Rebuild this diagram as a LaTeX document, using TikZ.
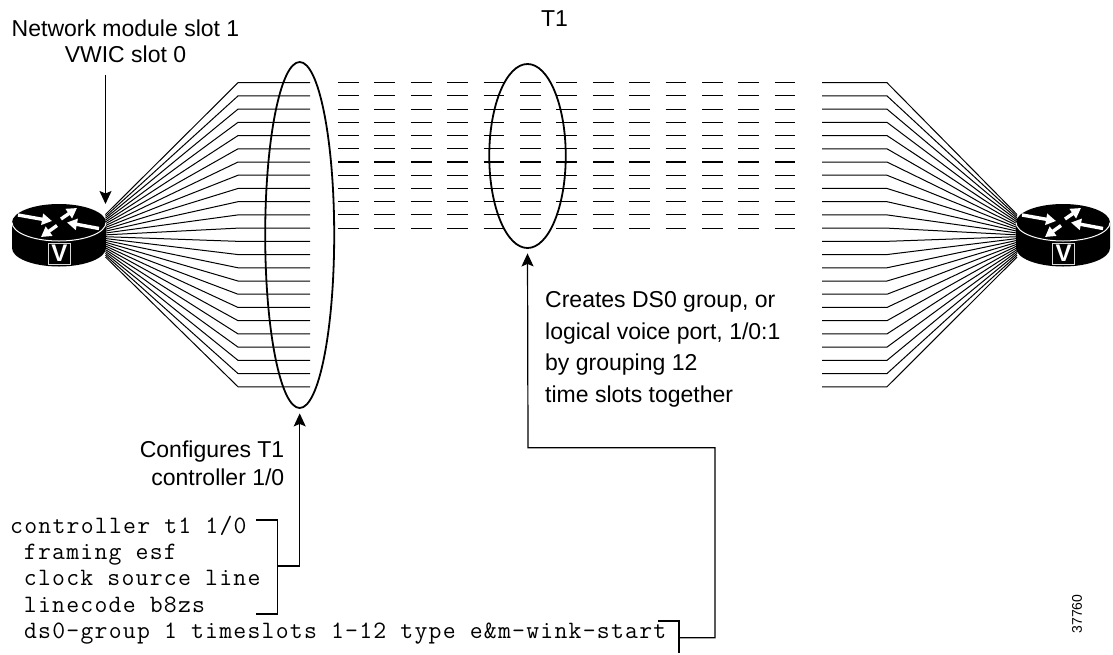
\documentclass[tikz,border=0pt]{standalone}
\usepackage{fontspec}
\setmainfont{Liberation Sans}
\setmonofont{Latin Modern Mono}[LetterSpace=5]
\usetikzlibrary{arrows.meta,shapes.geometric}
\tikzset{
  lbl/.style={inner sep=0pt,font=\fontsize{23}{28}\selectfont},
  code/.style={inner sep=0pt,anchor=base west,align=left,font=\ttfamily\fontsize{25}{26.3}\selectfont},
  wire/.style={line width=1pt,line join=miter},
  slotdash/.style={line width=1.1pt,dash pattern=on 20.8pt off 15.6pt},
  group/.style={draw,ellipse,line width=1.8pt,inner sep=0pt},
  link/.style={line width=1.2pt},
  pointer/.style={link,-{Stealth[length=13pt,width=12pt,inset=2.5pt]}},
  whitearrow/.style={white,line width=3.4pt,-{Stealth[length=10pt,width=11pt,inset=0pt]}}
}
\begin{document}
\begin{tikzpicture}[x=1pt,y=-1pt]
      \useasboundingbox (0,0) rectangle (1113,654) ;
      % time slots
      \foreach \i in {0,...,23} {
        \pgfmathsetmacro{\ypos}{82.7+13.22*\i}
        \pgfmathsetmacro{\yhub}{214.5+1.85*\i}
        \coordinate (LH\i) at (105.5,\yhub) ;
        \coordinate (LB\i) at (238,\ypos) ;
        \coordinate (LE\i) at (310,\ypos) ;
        \coordinate (RH\i) at (1017,\yhub) ;
        \coordinate (RB\i) at (887,\ypos) ;
        \coordinate (RE\i) at (822,\ypos) ;
        \draw[wire] (LH\i)--(LB\i)--(LE\i) ;
        \draw[wire] (RH\i)--(RB\i)--(RE\i) ;
      }
      \foreach \i in {0,...,11} {
        \pgfmathsetmacro{\ypos}{82.7+13.22*\i}
        \coordinate (DL\i) at (338,\ypos) ;
        \coordinate (DR\i) at (795,\ypos) ;
        \draw[slotdash] (DL\i)--(DR\i) ;
      }
      % routers
      \foreach \cx/\nm in {0/left,1004/right} {
        \begin{scope}[shift={(\cx,0)}]
          \fill (12,222.5)--(12,248) arc[start angle=180,end angle=0,x radius=47,y radius=18.5]
            --(106,222.5) arc[start angle=0,end angle=-180,x radius=47,y radius=18.5] ;
          \draw[white,line width=1pt] (12,222.5) arc[start angle=180,end angle=0,x radius=47,y radius=18.5] ;
          \draw[whitearrow] (18,215)--(52,221) ;
          \draw[whitearrow] (61,219)--(77,208) ;
          \draw[whitearrow] (99,228.5)--(67,222.5) ;
          \draw[whitearrow] (57,225.5)--(41,237) ;
          \node[draw=white!85!black,fill=black,text=white,line width=1pt,minimum width=22pt,minimum height=21pt,%
          inner sep=0pt,font=\bfseries\fontsize{24}{24}\selectfont] (V\nm) at (59.5,253.5) {V} ;
        \end{scope}
      }
      % groups
      \node[group,minimum width=69pt,minimum height=346pt] (E1) at (299.7,235) {} ;
      \node[group,minimum width=76.5pt,minimum height=184pt] (E2) at (527.5,156) {} ;
      % texts
      \node[lbl,align=center,anchor=base,font=\fontsize{23}{25.6}\selectfont] (Tslot) at (125.5,62.3) {Network module slot 1\\VWIC slot 0} ;
      \node[lbl,anchor=base] (Ttone) at (554.5,26) {T1} ;
      \node[lbl,align=left,anchor=base west,font=\fontsize{23}{31.5}\selectfont] (Tds) at (545,402) {Creates DS0 group, or\\logical voice port, 1/0:1\\by grouping 12\\time slots together} ;
      \node[lbl,align=right,anchor=base east] (Tctl) at (284.5,485) {Configures T1\\controller 1/0} ;
      \node[code] (Cctl) at (10,612) {controller t1 1/0\\\hspace*{13.8pt}framing esf\\\hspace*{13.8pt}clock source line\\\hspace*{13.8pt}linecode b8zs} ;
      \node[code] (Cds) at (23.8,638) {ds0-group 1 timeslots 1-12 type e\&m-wink-start} ;
      \node[inner sep=0pt,rotate=90,font=\fontsize{14}{14}\selectfont] (Tnum) at (1077,614) {37760} ;
      % brackets and arrows
      \coordinate (P0) at (105.5,75) ;
      \draw[pointer] (P0)--(105.5,204) ;
      \coordinate (B1a) at (256,520) ;
      \coordinate (B1b) at (277.7,520) ;
      \coordinate (B1c) at (277.7,614) ;
      \coordinate (B1d) at (256,614) ;
      \coordinate (B1m) at (277.7,566) ;
      \draw[link] (B1a)--(B1b)--(B1c)--(B1d) ;
      \draw[pointer,shorten >=4.5pt] (B1m)-|(E1.south) ;
      \coordinate (B2a) at (658,621) ;
      \coordinate (B2b) at (679,621) ;
      \coordinate (B2c) at (679,653) ;
      \coordinate (B2m) at (679,637.7) ;
      \coordinate (B2r) at (715,637.7) ;
      \coordinate (B2t) at (715,447.7) ;
      \coordinate (B2l) at (528,447.7) ;
      \draw[link] (B2a)--(B2b)--(B2c) ;
      \draw[pointer,shorten >=4.5pt] (B2m)--(B2r)--(B2t)--(B2l)--(E2.south) ;
\end{tikzpicture}
\end{document}
